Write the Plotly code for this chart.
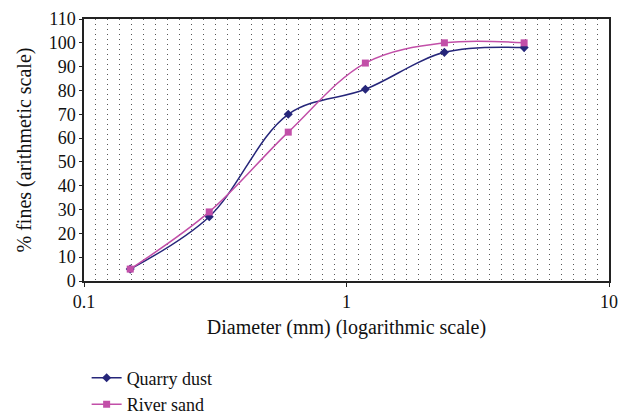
import plotly.graph_objects as go

diameters = [0.15, 0.3, 0.6, 1.18, 2.36, 4.75]
quarry_dust = [5, 27, 70, 80.5, 96, 98]
river_sand = [5, 29, 62.5, 91.5, 100, 100]
y_ticks = list(range(0, 111, 10))
x_ticks = [0.1, 1, 10]
x_tick_labels = ["0.1", "1", "10"]

FONT = "Liberation Serif"

fig = go.Figure()
# invisible trace to activate the linear overlay axis used for the dotted background grid
fig.add_trace(go.Scatter(x=[0, 44], y=[0, 0], xaxis="x2", mode="markers",
                         marker=dict(opacity=0), showlegend=False, hoverinfo="skip"))
fig.add_trace(go.Scatter(
    x=diameters, y=quarry_dust, name="Quarry dust", mode="lines+markers",
    line=dict(color="#26267a", width=1.5, shape="spline", smoothing=1.0),
    marker=dict(symbol="diamond", size=7, color="#26267a"),
))
fig.add_trace(go.Scatter(
    x=diameters, y=river_sand, name="River sand", mode="lines+markers",
    line=dict(color="#c24fa8", width=1.5, shape="spline", smoothing=1.0),
    marker=dict(symbol="square", size=7, color="#c24fa8"),
))

fig.update_layout(
    width=620, height=415,
    margin=dict(l=84, r=11, t=19, b=134, autoexpand=False),
    paper_bgcolor="white", plot_bgcolor="white",
    font=dict(family=FONT, size=17, color="#111"),
    xaxis=dict(
        type="log", range=[-1, 1], tickvals=x_ticks, ticktext=x_tick_labels,
        tickfont=dict(size=18),
        showgrid=False, ticks="outside", ticklen=4, tickcolor="#222",
        showline=True, linecolor="#222", linewidth=1.5, mirror=True,
        title=dict(text="Diameter (mm) (logarithmic scale)", standoff=9),
    ),
    xaxis2=dict(
        overlaying="x", range=[0, 44], dtick=1, showgrid=True,
        gridcolor="#555", griddash="1px,4px", gridwidth=1,
        showticklabels=False, ticks="", zeroline=False, showline=False,
    ),
    yaxis=dict(
        range=[0, 110], tickvals=y_ticks, tickfont=dict(size=18), showgrid=False,
        ticks="outside", ticklen=3, tickcolor="#222",
        showline=True, linecolor="#222", linewidth=1.5, mirror=True,
        zeroline=False,
        title=dict(text="% fines (arithmetic scale)", standoff=12),
    ),
    legend=dict(x=0.005, y=-0.30, xanchor="left", yanchor="top",
                font=dict(family=FONT, size=18), tracegroupgap=0,
                bgcolor="rgba(0,0,0,0)"),
)

fig.write_html("out.html")
